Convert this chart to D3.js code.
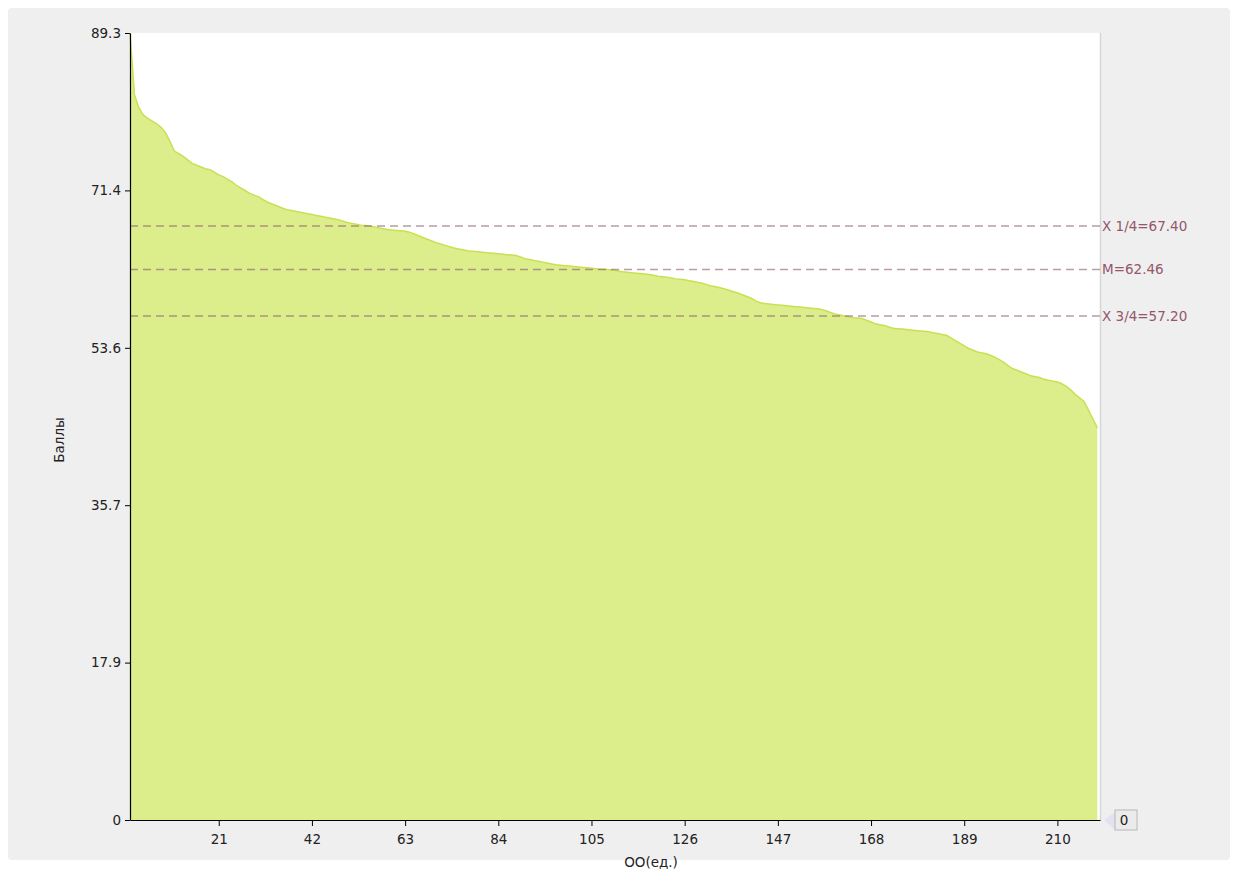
<!DOCTYPE html>
<html>
<head>
<meta charset="utf-8">
<script src="https://cdn.jsdelivr.net/npm/d3@7"></script>
<style>
  html, body { margin: 0; padding: 0; background: #ffffff; }
  svg { display: block; font-family: "DejaVu Sans", Verdana, sans-serif; }
</style>
</head>
<body>
<svg id="chart" width="1237" height="872"></svg>
<script>
// ---- data ----
const scores = [
  89.3, 82.3, 80.8, 80.0, 79.6, 79.3, 79.0, 78.6, 78.0, 77.0,
  75.9, 75.6, 75.3, 74.9, 74.5, 74.3, 74.1, 73.9, 73.8, 73.5,
  73.2, 73.0, 72.7, 72.4, 72.0, 71.7, 71.4, 71.1, 70.9, 70.7,
  70.4, 70.1, 69.9, 69.7, 69.5, 69.3, 69.2, 69.1, 69.0, 68.9,
  68.8, 68.7, 68.6, 68.5, 68.4, 68.3, 68.2, 68.1, 67.95, 67.8,
  67.7, 67.6, 67.5, 67.45, 67.4, 67.3, 67.2, 67.1, 67.0, 66.95,
  66.9, 66.85, 66.8, 66.7, 66.5, 66.3, 66.1, 65.9, 65.7, 65.5,
  65.35, 65.2, 65.05, 64.9, 64.8, 64.7, 64.6, 64.55, 64.5, 64.45,
  64.4, 64.35, 64.3, 64.25, 64.2, 64.15, 64.1, 64.05, 63.9, 63.7,
  63.6, 63.5, 63.4, 63.3, 63.2, 63.1, 63.0, 62.95, 62.9, 62.85,
  62.8, 62.75, 62.7, 62.65, 62.6, 62.55, 62.5, 62.48, 62.45, 62.4,
  62.3, 62.2, 62.15, 62.1, 62.05, 62.0, 61.95, 61.9, 61.8, 61.7,
  61.65, 61.6, 61.5, 61.4, 61.35, 61.3, 61.2, 61.1, 61.0, 60.9,
  60.75, 60.6, 60.5, 60.4, 60.25, 60.1, 59.95, 59.8, 59.6, 59.4,
  59.2, 58.9, 58.7, 58.6, 58.55, 58.5, 58.45, 58.4, 58.35, 58.3,
  58.25, 58.2, 58.15, 58.1, 58.05, 58.0, 57.9, 57.75, 57.55, 57.4,
  57.3, 57.2, 57.1, 57.0, 56.95, 56.9, 56.7, 56.5, 56.3, 56.2,
  56.1, 55.95, 55.8, 55.75, 55.7, 55.65, 55.6, 55.55, 55.5, 55.45,
  55.4, 55.3, 55.2, 55.1, 55.0, 54.7, 54.4, 54.1, 53.8, 53.5,
  53.3, 53.1, 53.0, 52.9, 52.7, 52.5, 52.2, 51.9, 51.5, 51.2,
  51.0, 50.8, 50.6, 50.4, 50.3, 50.2, 50.0, 49.9, 49.8, 49.7,
  49.5, 49.2, 48.8, 48.3, 47.9, 47.5, 46.5, 45.5, 44.5
];
const xTickValues = [21, 42, 63, 84, 105, 126, 147, 168, 189, 210];
const yTickValues = [0, 17.86, 35.72, 53.58, 71.44, 89.3];
const yTickLabels = ["0", "17.9", "35.7", "53.6", "71.4", "89.3"];
const refValues = [67.40, 62.46, 57.20];
const refLabels = ["X 1/4=67.40", "M=62.46", "X 3/4=57.20"];
const xTitle = "ОО(ед.)";
const yTitle = "Баллы";
const cornerLabel = "0";

// ---- layout ----
const L = 130, R = 1100, T = 33, B = 820;
const svg = d3.select("#chart");

const x = d3.scaleLinear().domain([1, 219.6]).range([L, R]);
const y = d3.scaleLinear().domain([0, 89.3]).range([B, T]);

// outer panel
svg.append("rect").attr("x", 8).attr("y", 8).attr("width", 1222).attr("height", 852)
  .attr("rx", 4).attr("fill", "#efefef");

// plot background
svg.append("rect").attr("x", L).attr("y", T).attr("width", R - L).attr("height", B - T)
  .attr("fill", "#ffffff");
svg.append("line").attr("x1", R + 0.5).attr("x2", R + 0.5).attr("y1", T).attr("y2", B)
  .attr("stroke", "#d6d6d6").attr("stroke-width", 1.5);

// area
const data = scores.map((v, i) => ({ i: i + 1, v }));
const area = d3.area().x(d => x(d.i)).y0(y(0)).y1(d => y(d.v));
const line = d3.line().x(d => x(d.i)).y(d => y(d.v));
svg.append("path").datum(data).attr("d", area).attr("fill", "#dcee8c");
svg.append("path").datum(data).attr("d", line).attr("fill", "none")
  .attr("stroke", "#c8e052").attr("stroke-width", 1.5);

// reference lines
const refG = svg.append("g");
refValues.forEach((v, k) => {
  refG.append("line").attr("x1", L).attr("x2", R).attr("y1", y(v)).attr("y2", y(v))
    .attr("stroke", "#8a5a6a").attr("stroke-opacity", 0.6)
    .attr("stroke-width", 1.5).attr("stroke-dasharray", "8,5");
  refG.append("text").attr("x", R + 2).attr("y", y(v)).attr("dy", "0.35em")
    .attr("font-size", 13.5).attr("fill", "#94566a").text(refLabels[k]);
});

// axes
const xAxis = d3.axisBottom(x).tickValues(xTickValues).tickSize(6).tickSizeOuter(0);
const gx = svg.append("g").attr("transform", `translate(0,${B})`).call(xAxis);
gx.select(".domain").attr("stroke", "#000").attr("stroke-width", 1.2);
gx.selectAll(".tick line").attr("stroke", "#000");
gx.selectAll(".tick text").attr("font-size", 13.5).attr("fill", "#222")
  .attr("font-family", "DejaVu Sans, sans-serif").attr("dy", "1.1em");

const yAxis = d3.axisLeft(y).tickValues(yTickValues).tickSize(5).tickSizeOuter(0)
  .tickFormat((d, i) => yTickLabels[i]);
const gy = svg.append("g").attr("transform", `translate(${L},0)`).call(yAxis);
gy.select(".domain").attr("stroke", "#000").attr("stroke-width", 1.2);
gy.selectAll(".tick line").attr("stroke", "#000");
gy.selectAll(".tick text").attr("font-size", 13.5).attr("fill", "#222")
  .attr("font-family", "DejaVu Sans, sans-serif").attr("x", -9);

// axis titles
svg.append("text").attr("x", 651).attr("y", 867).attr("text-anchor", "middle")
  .attr("font-size", 13.5).attr("fill", "#222").text(xTitle);
svg.append("text").attr("transform", "translate(64,440) rotate(-90)")
  .attr("text-anchor", "middle").attr("font-size", 13.5).attr("fill", "#222").text(yTitle);

// corner box
svg.append("path").attr("d", "M1104,820 L1115,812 L1115,830 Z").attr("fill", "#e4e2f0");
svg.append("rect").attr("x", 1115).attr("y", 810).attr("width", 22).attr("height", 20)
  .attr("fill", "#ebebeb").attr("stroke", "#b8b8b8").attr("stroke-width", 1);
svg.append("text").attr("x", 1124).attr("y", 820).attr("dy", "0.35em").attr("text-anchor", "middle")
  .attr("font-size", 13.5).attr("fill", "#222").text(cornerLabel);
</script>
</body>
</html>
